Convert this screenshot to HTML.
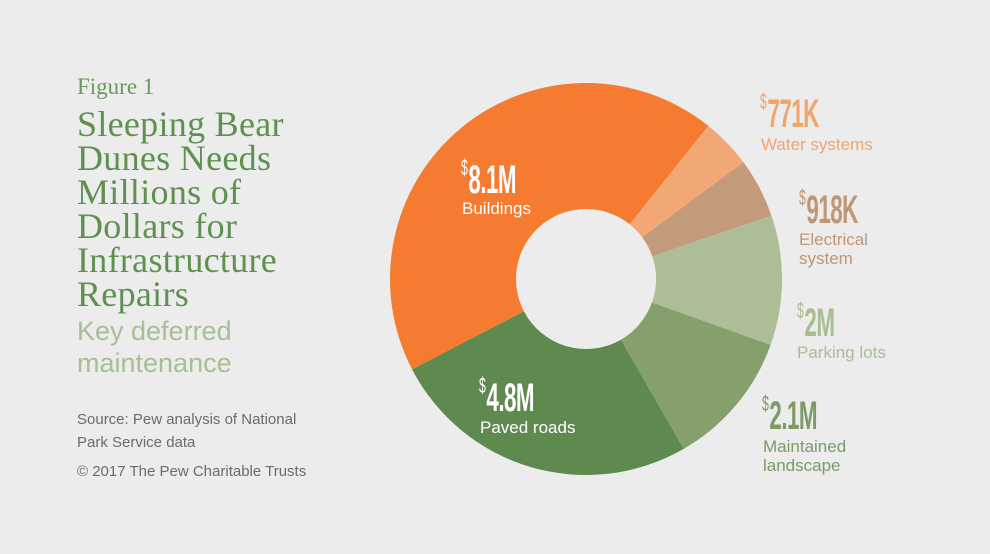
<!DOCTYPE html>
<html><head><meta charset="utf-8"><style>
body{margin:0;background:#ececec;}
#w{position:relative;width:990px;height:554px;background:#ececec;overflow:hidden;font-family:"Liberation Sans",sans-serif;}
.t{position:absolute;left:77px;white-space:nowrap;}
.big{position:absolute;white-space:nowrap;font-family:"Liberation Sans",sans-serif;font-weight:bold;font-size:40px;transform:scaleX(0.56);transform-origin:left top;line-height:40px;letter-spacing:-1px}
.big sup{font-size:22px;font-weight:normal;vertical-align:top;line-height:20px;position:relative;top:-2px;margin-right:2px}
.lb{position:absolute;white-space:nowrap;font-size:17px;line-height:20px;}
</style></head><body><div id="w">
<div class="t" style="top:74px;font-family:'Liberation Serif',serif;font-size:23px;color:#6a9a5a">Figure 1</div>
<div class="t" style="top:107px;font-family:'Liberation Serif',serif;font-size:36px;line-height:34px;letter-spacing:0.3px;color:#5e9150">Sleeping Bear<br>Dunes Needs<br>Millions of<br>Dollars for<br>Infrastructure<br>Repairs</div>
<div class="t" style="top:315px;font-size:27px;line-height:32px;color:#a6bf95">Key deferred<br>maintenance</div>
<div class="t" style="top:408px;font-size:15px;line-height:23px;color:#6b6b6b">Source: Pew analysis of National<br>Park Service data</div>
<div class="t" style="top:463px;font-size:15px;color:#6b6b6b">© 2017 The Pew Charitable Trusts</div>
<svg width="990" height="554" style="position:absolute;left:0;top:0" id="s"></svg>
<div class="big" style="left:461px;top:160px;color:#fff"><sup>$</sup>8.1M</div>
<div class="lb" style="left:462px;top:199px;color:#fff">Buildings</div>
<div class="big" style="left:479px;top:378px;color:#fff"><sup>$</sup>4.8M</div>
<div class="lb" style="left:480px;top:418px;color:#fff">Paved roads</div>
<div class="big" style="left:760px;top:94px;color:#f2a46d"><sup>$</sup>771K</div>
<div class="lb" style="left:761px;top:135px;color:#f2a46d">Water systems</div>
<div class="big" style="left:799px;top:190px;color:#bf9676"><sup>$</sup>918K</div>
<div class="lb" style="left:799px;top:230px;line-height:19px;color:#bf9676">Electrical<br>system</div>
<div class="big" style="left:797px;top:303px;color:#a9bd93"><sup>$</sup>2M</div>
<div class="lb" style="left:797px;top:343px;color:#a9bd93">Parking lots</div>
<div class="big" style="left:762px;top:396px;color:#7d9a66"><sup>$</sup>2.1M</div>
<div class="lb" style="left:763px;top:437px;line-height:19px;color:#7d9a66">Maintained<br>landscape</div>
</div>
<script>
var cx=586,cy=279,R=196,r=70;
var d=[[0.771,"#f2a874"],[0.918,"#c39a7a"],[2,"#adbd96"],[2.1,"#86a06d"],[4.8,"#5f8a4f"],[8.1,"#f47b30"]];
var tot=0;d.forEach(function(x){tot+=x[0]});
var a=38.6,s="";
function p(rad,deg){var t=deg*Math.PI/180;return (cx+rad*Math.sin(t)).toFixed(2)+","+(cy-rad*Math.cos(t)).toFixed(2);}
d.forEach(function(x){var b=a+x[0]/tot*360;var l=(b-a)>180?1:0;
s+='<path fill="'+x[1]+'" d="M'+p(R,a)+' A'+R+','+R+' 0 '+l+' 1 '+p(R,b)+' L'+p(r,b)+' A'+r+','+r+' 0 '+l+' 0 '+p(r,a)+' Z"/>';a=b;});
document.getElementById("s").innerHTML=s;
</script>
</body></html>
